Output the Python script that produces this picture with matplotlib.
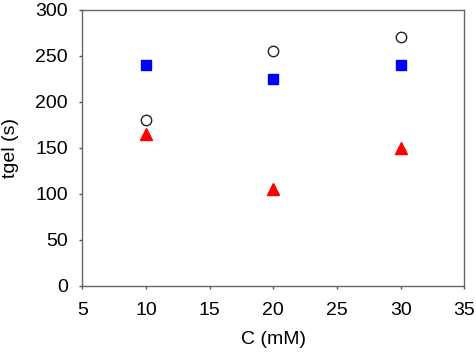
import matplotlib
matplotlib.use("Agg")
import matplotlib.pyplot as plt

plt.rcParams['font.family'] = ['Liberation Sans', 'DejaVu Sans']

conc = [10, 20, 30]
series_square = [240, 225, 240]
series_circle = [180, 255, 270]
series_triangle = [165, 105, 150]

xticks = [5, 10, 15, 20, 25, 30, 35]
yticks = [0, 50, 100, 150, 200, 250, 300]

fig = plt.figure(figsize=(4.77, 3.54), dpi=100)
ax = fig.add_axes([82.3 / 477, 1 - 285.7 / 354, (464.3 - 82.3) / 477, (285.7 - 9.5) / 354])

ax.plot(conc, series_square, linestyle='none', marker='s', markersize=7.2,
        color='#0000ff', markeredgecolor='#0000ff')
ax.plot(conc, series_circle, linestyle='none', marker='o', markersize=7.5,
        markerfacecolor='white', markeredgecolor='#222222', markeredgewidth=1.0)
ax.plot(conc, series_triangle, linestyle='none', marker='^', markersize=8,
        color='#ff0000', markeredgecolor='#ff0000')

ax.set_xlim(5, 35)
ax.set_ylim(0, 300)
ax.set_xticks(xticks)
ax.set_yticks(yticks)
ax.tick_params(direction='out', length=2.2, width=1, labelsize=14,
               color='#555555')
ax.tick_params(axis='x', pad=9.4)
ax.tick_params(axis='y', pad=8.1)
for s in ax.spines.values():
    s.set_color('#666666')
    s.set_linewidth(1.0)

ax.set_xlabel('C (mM)', fontsize=14, labelpad=9)
ax.set_ylabel('tgel (s)', fontsize=14, labelpad=12)

fig.savefig('out.png', dpi=100)
